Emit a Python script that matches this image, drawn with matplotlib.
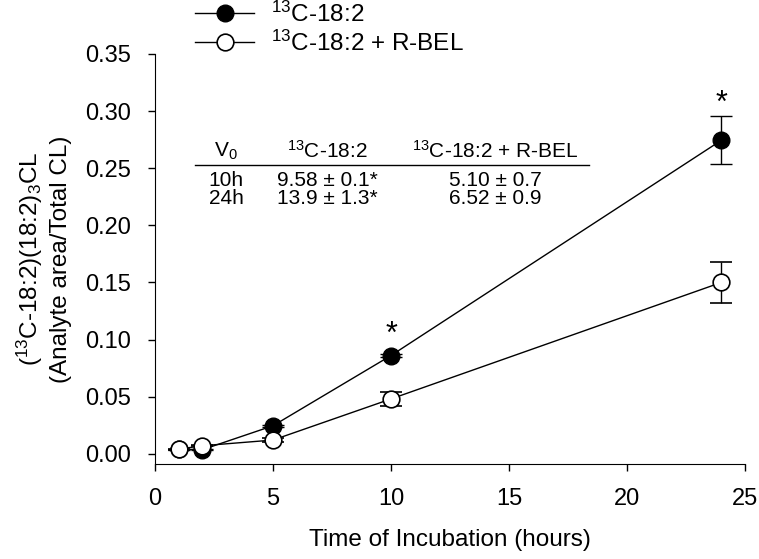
import matplotlib
matplotlib.use('Agg')
import matplotlib.pyplot as plt
from matplotlib.lines import Line2D

plt.rcParams['font.family'] = ['Liberation Sans', 'DejaVu Sans']
plt.rcParams['mathtext.fontset'] = 'custom'
plt.rcParams['mathtext.rm'] = 'Liberation Sans'
plt.rcParams['mathtext.it'] = 'Liberation Sans:italic'
plt.rcParams['mathtext.default'] = 'regular'

# data
hours = [1, 2, 5, 10, 24]
c13 = [0.004, 0.0035, 0.0245, 0.086, 0.2745]
c13_err = [0.0005, 0.0005, 0.001, 0.001, 0.021]
c13_bel = [0.004, 0.007, 0.012, 0.048, 0.150]
c13_bel_err = [0.0005, 0.0005, 0.002, 0.006, 0.018]
star_x = [10, 24]
star_y = [0.104, 0.306]

# table inset
tbl_header = ['V$_0$', '$^{13}$C-18:2', '$^{13}$C-18:2 + R-BEL']
tbl_rows = [['10h', '9.58 \u00b1 0.1*', '5.10 \u00b1 0.7'],
            ['24h', '13.9 \u00b1 1.3*', '6.52 \u00b1 0.9']]

fig = plt.figure(figsize=(7.59, 5.59), dpi=100)
ax = fig.add_axes([0.2042, 0.1699, 0.7774, 0.7335])

ax.errorbar(hours, c13, yerr=c13_err, color='black', lw=1, marker='o', ms=12,
            mfc='black', mec='black', capsize=8, elinewidth=1, capthick=1, zorder=3)
ax.errorbar(hours, c13_bel, yerr=c13_bel_err, color='black', lw=1, marker='o', ms=12,
            mfc='white', mec='black', mew=1.2, capsize=8, elinewidth=1, capthick=1, zorder=4)

for x, y in zip(star_x, star_y):
    ax.text(x, y, '*', ha='center', va='center', fontsize=22)

ax.set_xlim(0, 25)
ax.set_ylim(-0.009, 0.35)
ax.set_xticks([0, 5, 10, 15, 20, 25])
ax.set_yticks([0, 0.05, 0.10, 0.15, 0.20, 0.25, 0.30, 0.35])
ax.set_yticklabels(['%.2f' % v for v in ax.get_yticks()])
ax.spines['top'].set_visible(False)
ax.spines['right'].set_visible(False)
ax.tick_params(direction='out', length=5, width=1, labelsize=17, color='black')
ax.tick_params(axis='x', pad=12)
ax.tick_params(axis='y', pad=12)

ax.set_xlabel('Time of Incubation (hours)', fontsize=17.5, labelpad=14)
ax.set_ylabel('($^{13}$C-18:2)(18:2)$_3$CL\n(Analyte area/Total CL)', fontsize=17.5,
              labelpad=10, linespacing=1.3)

# inset table
col_x = [226, 327, 495]
for cx, h in zip(col_x, tbl_header):
    fig.text(cx / 759, 1 - 151 / 559, h, ha='center', va='center', fontsize=15)
fig.add_artist(Line2D([195 / 759, 589 / 759], [1 - 165 / 559, 1 - 165 / 559],
                      color='black', lw=1))
for ry, row in zip([180, 198], tbl_rows):
    for cx, s in zip(col_x, row):
        fig.text(cx / 759, 1 - ry / 559, s, ha='center', va='center', fontsize=15)

h1 = Line2D([], [], color='black', lw=1, marker='o', ms=12, mfc='black', mec='black')
h2 = Line2D([], [], color='black', lw=1, marker='o', ms=12, mfc='white', mec='black', mew=1.2)
fig.legend(handles=[h1, h2], labels=['$^{13}$C-18:2', '$^{13}$C-18:2 + R-BEL'],
           loc='upper left', bbox_to_anchor=(0.228, 1.036),
           frameon=False, fontsize=17.5, handlelength=2.45, numpoints=1,
           labelspacing=0.15, handletextpad=0.7)

fig.savefig('out.png', dpi=100)
